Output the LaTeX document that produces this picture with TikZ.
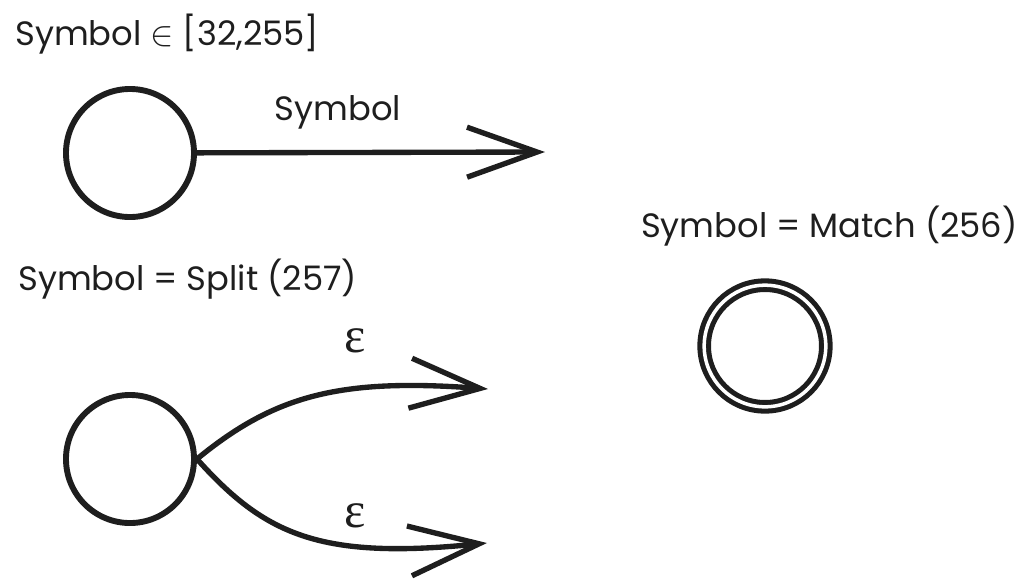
\documentclass[tikz,border=0pt]{standalone}
\usepackage{fontspec}
\setmainfont{Poppins}
\newfontfamily\epsfont{Liberation Serif}
\usetikzlibrary{arrows.meta}
\definecolor{ink}{HTML}{1E1E1E}

\begin{document}
\begin{tikzpicture}[x=0.025cm,y=-0.025cm,
    >={Straight Barb[length=1.75cm,width=1.25cm]},
    state/.style={circle,draw=ink,line width=4.2pt,minimum size=3.2cm,inner sep=0pt},
    accept/.style={state,double,double distance=2.5pt,line width=3.6pt,minimum size=3.04cm},
    lbl/.style={text=ink,inner sep=0pt,font=\fontsize{24}{28}\selectfont},
    epslbl/.style={lbl,font=\epsfont\fontsize{36}{40}\selectfont},
    edge/.style={->,draw=ink,line width=3.8pt,line cap=round}]
    \useasboundingbox (0,0) rectangle (1028,587);
    %States
    \node[state] (sym) at (130,153) {};
    \node[accept] (match) at (765,346) {};
    \node[state] (split) at (130,459) {};
    %Free ends of the arrows
    \coordinate (symend) at (545,152);
    \coordinate (upend) at (488,389);
    \coordinate (downend) at (487,543);
    %Headers
    \node[lbl,anchor=base west] (hdrsym) at (15,45) {Symbol $\in$ [32,255]};
    \node[lbl,anchor=base east] (hdrmatch) at (1018,237) {Symbol = Match (256)};
    \node[lbl,anchor=base west] (hdrsplit) at (18,290) {Symbol = Split (257)};
    %Arrows
    \draw[edge] (sym) -- (symend);
    \draw[edge] (split.east) .. controls (275,395) and (340,378) .. (upend);
    \draw[edge] (split.east) .. controls (265,535) and (320,560) .. (downend);
    %Edge labels
    \node[lbl,anchor=base] (lblsym) at (338,120) {Symbol};
    \node[epslbl,anchor=base] (eps1) at (355,352) {ε};
    \node[epslbl,anchor=base] (eps2) at (355,527) {ε};
\end{tikzpicture}
\end{document}
